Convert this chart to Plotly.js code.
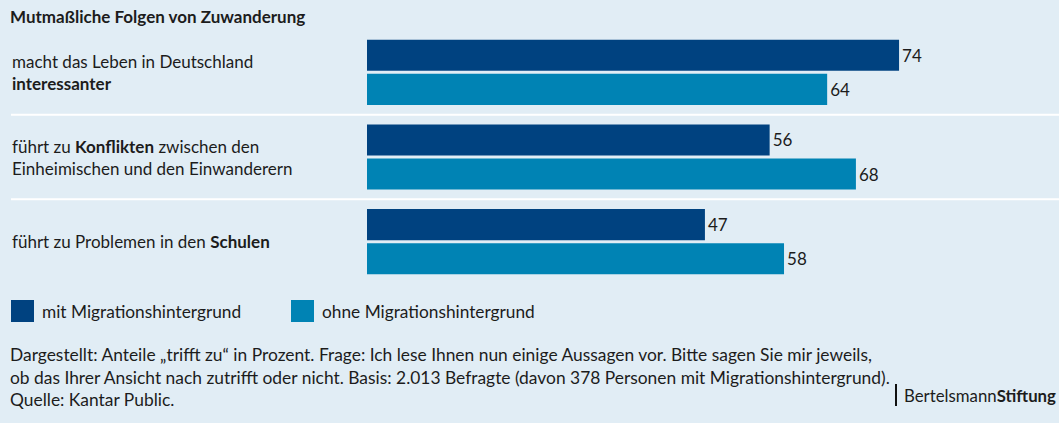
<!DOCTYPE html>
<html>
<head>
<meta charset="utf-8">
<script src="https://cdn.plot.ly/plotly-3.0.1.min.js"></script>
<style>
  html, body { margin: 0; padding: 0; background: #e1edf5; }
  #chart { width: 1059px; height: 423px; }
</style>
</head>
<body>
<div id="chart"></div>
<script>
// ---- data ----
const chartTitle = 'Mutmaßliche Folgen von Zuwanderung';
const categories = [
  'macht das Leben in Deutschland<br><b>interessanter</b>',
  'führt zu <b>Konflikten</b> zwischen den<br>Einheimischen und den Einwanderern',
  'führt zu Problemen in den <b>Schulen</b>'
];
const seriesNames = ['mit Migrationshintergrund', 'ohne Migrationshintergrund'];
const mitValues = [74, 56, 47];
const ohneValues = [64, 68, 58];
const footerLines = [
  'Dargestellt: Anteile „trifft zu“ in Prozent. Frage: Ich lese Ihnen nun einige Aussagen vor. Bitte sagen Sie mir jeweils,',
  'ob das Ihrer Ansicht nach zutrifft oder nicht. Basis: 2.013 Befragte (davon 378 Personen mit Migrationshintergrund).',
  'Quelle: Kantar Public.'
];
const logoText = 'Bertelsmann<b>Stiftung</b>';

// ---- style ----
const BG = '#e1edf5';
const COLORS = ['#004280', '#0083b4'];
const TXT = '#1c1c1c';
const FONT = 'Lato, "Open Sans", sans-serif';
const FS = 17;

const W = 1059, H = 423;
const mL = 367, mR = 0, mT = 30, mB = 139;
const plotW = W - mL - mR, plotH = H - mT - mB;
const px2x = px => (px - mL) / plotW;          // page px -> paper x
const py2y = py => (H - mB - py) / plotH;      // page px -> paper y

const seriesValues = [mitValues, ohneValues];
const traces = seriesNames.map((name, i) => ({
  type: 'bar', orientation: 'h', name: name, y: categories, x: seriesValues[i],
  marker: { color: COLORS[i] }, text: seriesValues[i].map(String), textposition: 'outside',
  textfont: { size: FS, color: TXT, family: FONT }, cliponaxis: false, hoverinfo: 'skip',
  showlegend: false
}));

const annotations = categories.map(c => ({
  xref: 'paper', yref: 'y', x: px2x(10), y: c, text: c,
  xanchor: 'left', yanchor: 'middle', align: 'left', showarrow: false,
  font: { size: FS, color: TXT, family: FONT }
}));
// legend texts
const legendX = [11, 291];
seriesNames.forEach((name, i) => {
  annotations.push({
    xref: 'paper', yref: 'paper', x: px2x(legendX[i] + 29), y: py2y(311), text: name,
    xanchor: 'left', yanchor: 'middle', align: 'left', showarrow: false,
    font: { size: 17.3, color: TXT, family: FONT }
  });
});
annotations.push({
  xref: 'paper', yref: 'paper', x: px2x(8), y: py2y(342), text: footerLines.join('<br>'),
  xanchor: 'left', yanchor: 'top', align: 'left', showarrow: false,
  font: { size: 17.4, color: TXT, family: FONT }
});
annotations.push({
  xref: 'paper', yref: 'paper', x: px2x(902), y: py2y(395), text: logoText,
  xanchor: 'left', yanchor: 'middle', align: 'left', showarrow: false,
  font: { size: 16.8, color: TXT, family: FONT }
});

const shapes = [0.5, 1.5].map(v => ({
  type: 'line', xref: 'paper', yref: 'y', x0: px2x(11), x1: 1, y0: v, y1: v,
  line: { color: '#ffffff', width: 2 }
}));
// legend swatches
seriesNames.forEach((name, i) => {
  shapes.push({
    type: 'rect', xref: 'paper', yref: 'paper',
    x0: px2x(legendX[i]), x1: px2x(legendX[i] + 23), y0: py2y(300), y1: py2y(322),
    fillcolor: COLORS[i], line: { width: 0 }
  });
});
// logo divider
shapes.push({
  type: 'line', xref: 'paper', yref: 'paper', x0: px2x(896), x1: px2x(896),
  y0: py2y(384), y1: py2y(406), line: { color: '#111111', width: 2 }
});

const layout = {
  width: W, height: H,
  paper_bgcolor: BG, plot_bgcolor: BG,
  margin: { l: mL, r: mR, t: mT, b: mB, pad: 0 },
  font: { family: FONT, color: TXT },
  title: { text: chartTitle, xref: 'container', yref: 'container', x: 10 / W, y: 1 - 17 / H,
           xanchor: 'left', yanchor: 'middle',
           font: { size: FS, weight: 700, color: TXT, family: FONT } },
  barmode: 'group', bargap: 0.195, bargroupgap: 0.09,
  xaxis: { range: [0, plotW / 7.19], showgrid: false, zeroline: false, showticklabels: false,
           showline: false, ticks: '', fixedrange: true },
  yaxis: { type: 'category', autorange: 'reversed', showgrid: false, zeroline: false,
           showticklabels: false, showline: false, ticks: '', fixedrange: true },
  showlegend: false,
  annotations: annotations,
  shapes: shapes
};

Plotly.newPlot('chart', traces, layout, { staticPlot: true, displayModeBar: false });
</script>
</body>
</html>
